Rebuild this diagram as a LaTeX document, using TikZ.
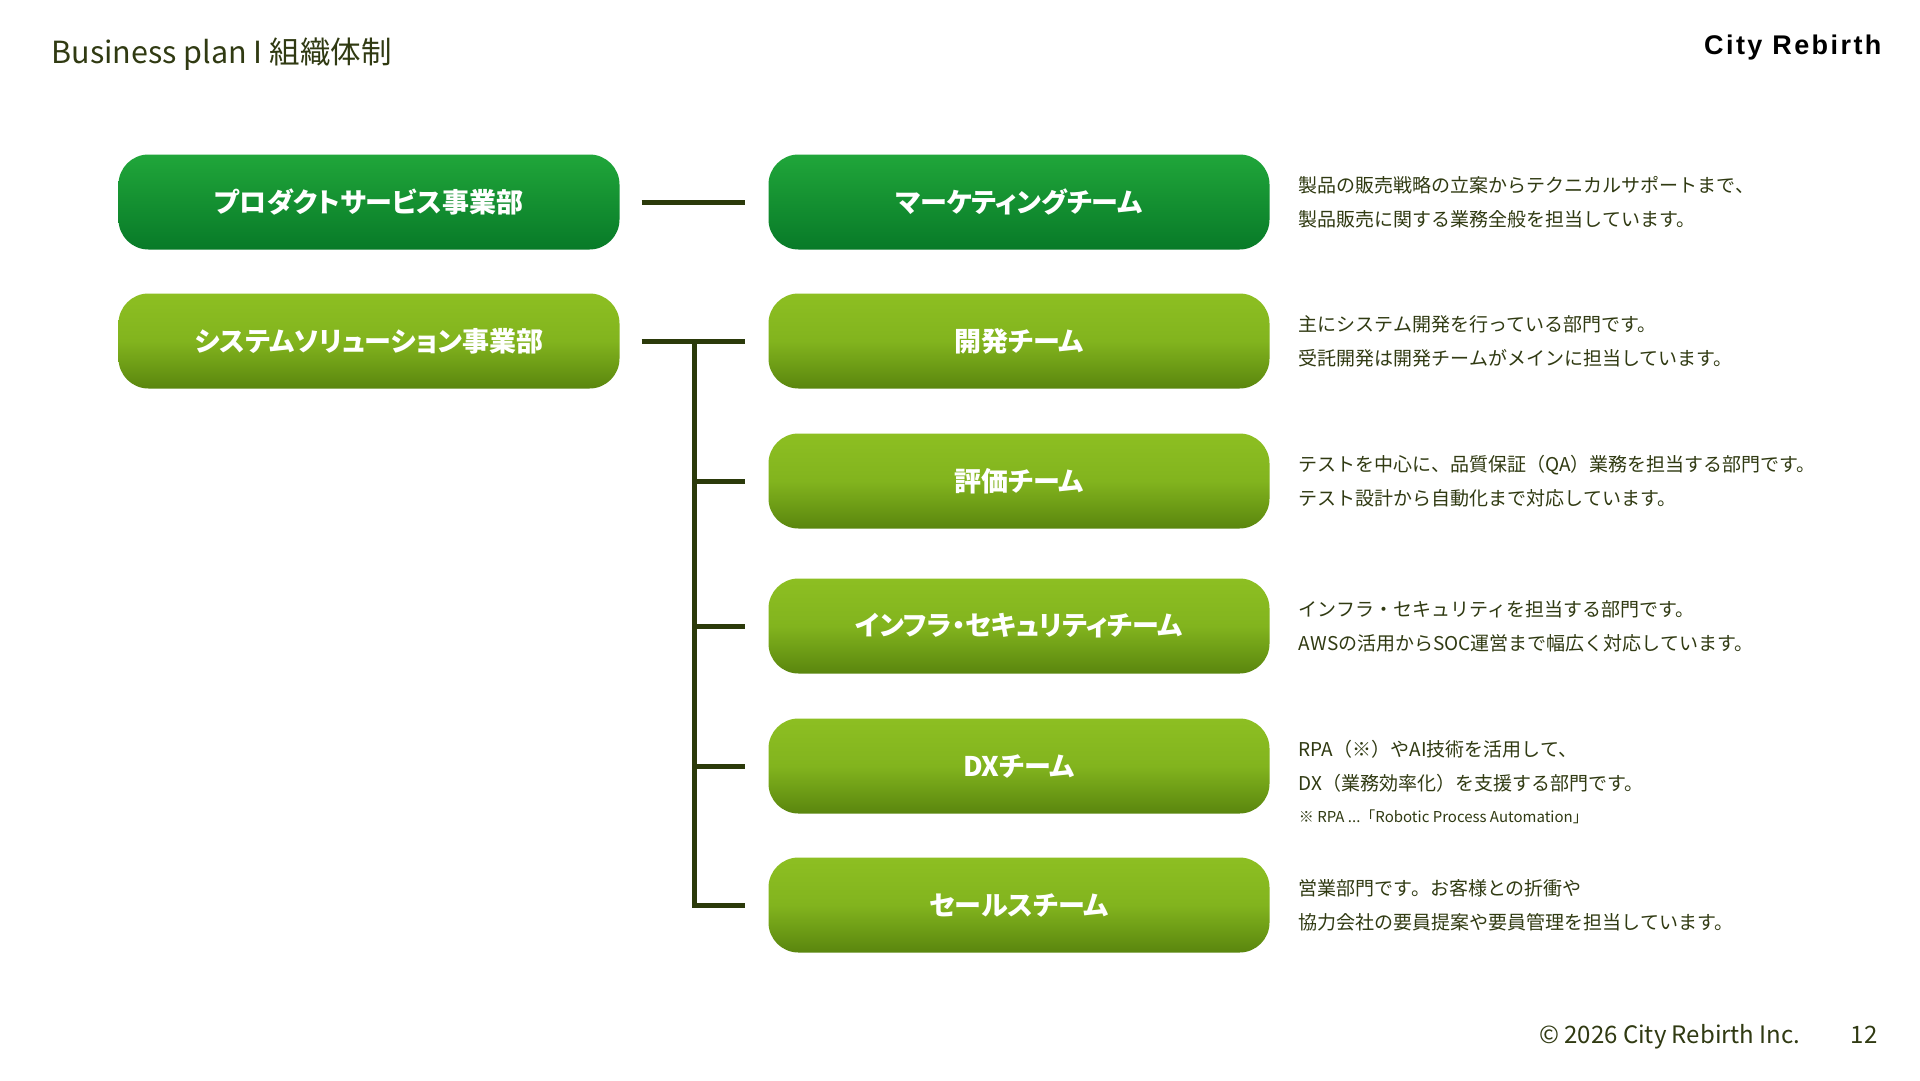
\documentclass[tikz,border=0pt]{standalone}
\usepackage{fontspec}
\setmainfont{Noto Sans CJK JP}
\newfontfamily\logofont[LetterSpace=9]{Liberation Sans}
\usetikzlibrary{positioning,calc}

\definecolor{deepgreen}{RGB}{32,166,58}
\definecolor{deepgreenb}{RGB}{8,122,40}
\definecolor{leafgreen}{RGB}{141,191,34}
\definecolor{leafgreenm}{RGB}{130,180,30}
\definecolor{leafgreenb}{RGB}{90,134,14}
\definecolor{olive}{RGB}{43,58,10}
\definecolor{textolive}{RGB}{48,58,18}

\tikzset{
    unit/.style={rounded corners=30pt, minimum width=501pt, minimum height=95pt,
        inner sep=0pt, text=white, font=\bfseries\addfontfeature{RawFeature=+palt}\fontsize{27}{30}\selectfont},
    produnit/.style={unit, top color=deepgreen, bottom color=deepgreenb},
    sysunit/.style={unit, top color=leafgreen, bottom color=leafgreenb, middle color=leafgreenm},
    link/.style={draw=olive, line width=5pt},
    desc/.style={inner sep=0pt, align=left, text=textolive, font=\fontsize{19}{34}\selectfont}
}

\begin{document}
\begin{tikzpicture}[x=1pt, y=-1pt]
    \useasboundingbox[fill=white] (0,0) rectangle (1920,1080);
    \node[anchor=base west, text=textolive, font=\fontsize{30.5}{34}\selectfont] (title) at (48,63) {Business plan I 組織体制};
    \node[anchor=base east, font=\logofont\bfseries\fontsize{27}{30}\selectfont] (logo) at (1885,54) {City Rebirth};

    \node[produnit] (prod) at (369,202) {プロダクトサービス事業部};
    \node[sysunit] (sys) at (369,341) {システムソリューション事業部};

    \node[produnit] (mkt) at (1019,202) {マーケティングチーム};
    \node[sysunit] (dev) at (1019,341) {開発チーム};
    \node[sysunit] (qa) at (1019,481) {評価チーム};
    \node[sysunit] (infra) at (1019,626) {インフラ・セキュリティチーム};
    \node[sysunit] (dx) at (1019,766) {DXチーム};
    \node[sysunit] (sales) at (1019,905) {セールスチーム};

    \coordinate (j) at ($(sys.east)!0.5!(dev.west)$);
    \draw[link, shorten <=22pt, shorten >=23pt] (prod) -- (mkt);
    \draw[link, shorten <=22pt, shorten >=23pt] (sys) -- (dev);
    \draw[link, shorten >=23pt] (j) |- (sales);
    \draw[link, shorten >=23pt] (j |- qa) -- (qa);
    \draw[link, shorten >=23pt] (j |- infra) -- (infra);
    \draw[link, shorten >=23pt] (j |- dx) -- (dx);

    \node[desc, right=29pt of mkt] (mktdesc) {製品の販売戦略の立案からテクニカルサポートまで、\\製品販売に関する業務全般を担当しています。};
    \node[desc, right=29pt of dev] (devdesc) {主にシステム開発を行っている部門です。\\受託開発は開発チームがメインに担当しています。};
    \node[desc, right=29pt of qa] (qadesc) {テストを中心に、品質保証（QA）業務を担当する部門です。\\テスト設計から自動化まで対応しています。};
    \node[desc, right=29pt of infra] (infradesc) {インフラ・セキュリティを担当する部門です。\\AWSの活用からSOC運営まで幅広く対応しています。};
    \node[desc, right=29pt of dx] (dxdesc) {RPA（※）やAI技術を活用して、\\DX（業務効率化）を支援する部門です。};
    \node[desc, anchor=north west, font=\fontsize{15}{17}\selectfont] (dxnote) at ($(dxdesc.south west)+(0,17)$) {※ RPA ...「Robotic Process Automation」};
    \node[desc, right=29pt of sales] (salesdesc) {営業部門です。お客様との折衝や\\協力会社の要員提案や要員管理を担当しています。};

    \node[anchor=base east, text=textolive, font=\fontsize{24}{28}\selectfont] (page) at (1881,1043) {12};
    \node[anchor=base east, text=textolive, font=\fontsize{24}{28}\selectfont] (copy) at (1804,1043) {© 2026 City Rebirth Inc.};
\end{tikzpicture}
\end{document}
